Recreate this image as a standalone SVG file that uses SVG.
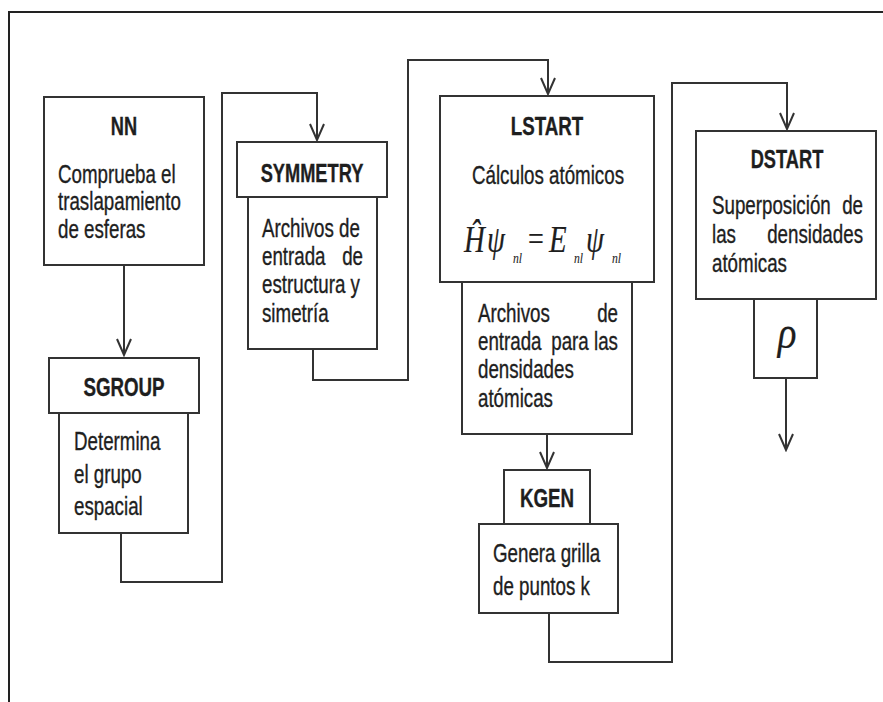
<svg xmlns="http://www.w3.org/2000/svg" width="883" height="702" viewBox="0 0 883 702">
<style>
  .box { fill: #ffffff; stroke: #333333; stroke-width: 2; }
  .conn { fill: none; stroke: #333333; stroke-width: 2; }
  .frame { fill: none; stroke: #222222; stroke-width: 2; }
  text { font-family: "Liberation Sans", Arial, sans-serif; font-size: 25px; fill: #1e1e1e; stroke: #1e1e1e; stroke-width: 0.35px; }
  .hd { font-weight: bold; text-anchor: middle; }
  .mid { text-anchor: middle; }
  .end { text-anchor: end; }
  .m { font-family: "Liberation Serif", "Times New Roman", serif; font-style: italic; font-size: 38px; stroke-width: 0.2px; }
  .sub { font-family: "Liberation Serif", "Times New Roman", serif; font-style: italic; font-size: 15px; stroke-width: 0.1px; }
  .eq { font-family: "Liberation Serif", "Times New Roman", serif; font-size: 36px; stroke-width: 0.2px; }
</style>
<defs>
  <marker id="arr" markerUnits="userSpaceOnUse" markerWidth="20" markerHeight="20" viewBox="-18 -10 20 20" refX="0" refY="0" orient="auto">
    <path d="M-16,-7 L0,0 L-16,7" fill="none" stroke="#333333" stroke-width="2"/>
  </marker>
</defs>
<rect width="883" height="702" fill="#ffffff"/>
<g id="frame">
  <path class="frame" d="M9,702 L9,12 L883,12"/>
</g>
<g id="connectors">
  <path class="conn" d="M124,265 L124,355" marker-end="url(#arr)"/>
  <path class="conn" d="M121,533 L121,582 L222,582 L222,93 L317,93 L317,140" marker-end="url(#arr)"/>
  <path class="conn" d="M313,349 L313,380 L408,380 L408,60 L548,60 L548,94" marker-end="url(#arr)"/>
  <path class="conn" d="M547,434 L547,468" marker-end="url(#arr)"/>
  <path class="conn" d="M549,613 L549,662 L672,662 L672,83 L787,83 L787,129" marker-end="url(#arr)"/>
  <path class="conn" d="M786,378 L786,450" marker-end="url(#arr)"/>
</g>
<g id="nn">
  <rect class="box" x="44" y="97" width="160" height="168"/>
  <text class="hd" transform="translate(124,135) scale(0.73,1)">NN</text>
  <text transform="translate(58,183) scale(0.75,1)">Comprueba el</text>
  <text transform="translate(58,210) scale(0.75,1)">traslapamiento</text>
  <text transform="translate(58,238) scale(0.75,1)">de esferas</text>
</g>
<g id="sgroup">
  <rect class="box" x="59" y="413" width="129" height="120"/>
  <rect class="box" x="49" y="358" width="150" height="55"/>
  <text class="hd" transform="translate(124,396) scale(0.75,1)">SGROUP</text>
  <text transform="translate(74,450) scale(0.75,1)">Determina</text>
  <text transform="translate(74,483) scale(0.75,1)">el grupo</text>
  <text transform="translate(74,515) scale(0.75,1)">espacial</text>
</g>
<g id="symmetry">
  <rect class="box" x="248" y="197" width="129" height="152"/>
  <rect class="box" x="237" y="142" width="150" height="55"/>
  <text class="hd" transform="translate(312,182) scale(0.73,1)">SYMMETRY</text>
  <text transform="translate(262,237) scale(0.75,1)">Archivos de</text>
  <text transform="translate(262,265) scale(0.75,1)">entrada</text>
  <text class="end" transform="translate(363,265) scale(0.75,1)">de</text>
  <text transform="translate(262,293) scale(0.75,1)">estructura y</text>
  <text transform="translate(262,322) scale(0.75,1)">simetría</text>
</g>
<g id="lstart">
  <rect class="box" x="462" y="282" width="170" height="152"/>
  <rect class="box" x="440" y="96" width="214" height="186"/>
  <text class="hd" transform="translate(547,135) scale(0.75,1)">LSTART</text>
  <text class="mid" transform="translate(548,184) scale(0.75,1)">Cálculos atómicos</text>
  <text class="m" transform="translate(464,252) scale(0.76,1)">Ĥ</text>
  <text class="m" transform="translate(487,252) scale(0.76,1)">ψ</text>
  <text class="sub" transform="translate(513,263) scale(0.78,1)">nl</text>
  <text class="eq" transform="translate(528,251) scale(0.78,1)">=</text>
  <text class="m" transform="translate(549,252) scale(0.76,1)">E</text>
  <text class="sub" transform="translate(574,263) scale(0.78,1)">nl</text>
  <text class="m" transform="translate(586,252) scale(0.76,1)">ψ</text>
  <text class="sub" transform="translate(612,263) scale(0.78,1)">nl</text>
  <text transform="translate(478,322) scale(0.75,1)">Archivos</text>
  <text class="end" transform="translate(618,322) scale(0.75,1)">de</text>
  <text transform="translate(478,350) scale(0.75,1)">entrada</text>
  <text class="mid" transform="translate(570,350) scale(0.75,1)">para</text>
  <text class="end" transform="translate(618,350) scale(0.75,1)">las</text>
  <text transform="translate(478,378) scale(0.75,1)">densidades</text>
  <text transform="translate(478,407) scale(0.75,1)">atómicas</text>
</g>
<g id="kgen">
  <rect class="box" x="504" y="470" width="86" height="54"/>
  <rect class="box" x="479" y="524" width="139" height="89"/>
  <text class="hd" transform="translate(547,507) scale(0.75,1)">KGEN</text>
  <text transform="translate(493,562) scale(0.75,1)">Genera grilla</text>
  <text transform="translate(493,595) scale(0.75,1)">de puntos k</text>
</g>
<g id="dstart">
  <rect class="box" x="696" y="131" width="180" height="168"/>
  <text class="hd" transform="translate(787,168) scale(0.73,1)">DSTART</text>
  <text transform="translate(712,214) scale(0.75,1)">Superposición</text>
  <text class="end" transform="translate(863,214) scale(0.75,1)">de</text>
  <text transform="translate(712,243) scale(0.75,1)">las</text>
  <text class="end" transform="translate(863,243) scale(0.75,1)">densidades</text>
  <text transform="translate(712,272) scale(0.75,1)">atómicas</text>
</g>
<g id="rho">
  <rect class="box" x="754" y="299" width="63" height="79"/>
  <text class="m mid" style="font-size:46px" transform="translate(787,348) scale(0.85,1)">ρ</text>
</g>
</svg>
